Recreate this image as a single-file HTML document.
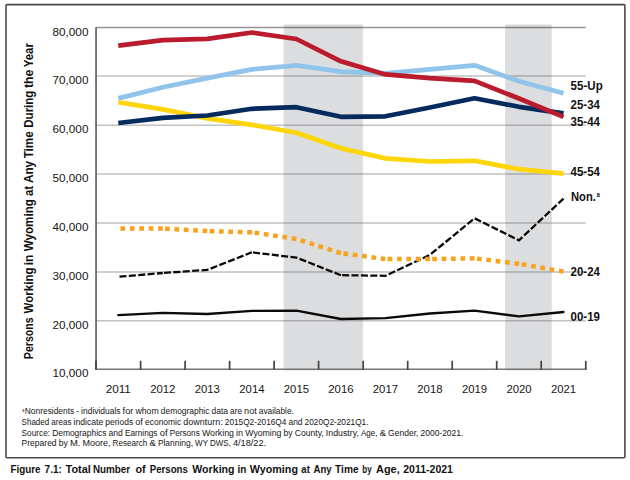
<!DOCTYPE html>
<html><head><meta charset="utf-8"><title>Figure 7.1</title>
<style>
html,body{margin:0;padding:0;background:#fff;}
body{width:630px;height:480px;overflow:hidden;font-family:"Liberation Sans",sans-serif;}
svg{display:block;}
svg text{font-family:"Liberation Sans",sans-serif;}
</style></head><body>
<svg width="630" height="480" viewBox="0 0 630 480">
<rect x="0" y="0" width="630" height="480" fill="#fff"/>
<line x1="96.05" y1="27.50" x2="585.75" y2="27.50" stroke="#959595" stroke-width="1.4"/>
<line x1="96.05" y1="76.10" x2="585.75" y2="76.10" stroke="#c2c2c2" stroke-width="1.5"/>
<line x1="96.05" y1="125.20" x2="585.75" y2="125.20" stroke="#c2c2c2" stroke-width="1.5"/>
<line x1="96.05" y1="174.00" x2="585.75" y2="174.00" stroke="#c2c2c2" stroke-width="1.5"/>
<line x1="96.05" y1="223.00" x2="585.75" y2="223.00" stroke="#c2c2c2" stroke-width="1.5"/>
<line x1="96.05" y1="271.90" x2="585.75" y2="271.90" stroke="#c2c2c2" stroke-width="1.5"/>
<line x1="96.05" y1="320.80" x2="585.75" y2="320.80" stroke="#c2c2c2" stroke-width="1.5"/>
<rect x="283.6" y="24.4" width="79.3" height="346.1" fill="#dcddde"/>
<rect x="505.2" y="24.4" width="46.6" height="346.1" fill="#dcddde"/>
<line x1="283.6" y1="27.50" x2="362.9" y2="27.50" stroke="#828384" stroke-width="1.4"/>
<line x1="505.2" y1="27.50" x2="551.8" y2="27.50" stroke="#828384" stroke-width="1.4"/>
<line x1="283.6" y1="76.10" x2="362.9" y2="76.10" stroke="#a9aaab" stroke-width="1.5"/>
<line x1="505.2" y1="76.10" x2="551.8" y2="76.10" stroke="#a9aaab" stroke-width="1.5"/>
<line x1="283.6" y1="125.20" x2="362.9" y2="125.20" stroke="#a9aaab" stroke-width="1.5"/>
<line x1="505.2" y1="125.20" x2="551.8" y2="125.20" stroke="#a9aaab" stroke-width="1.5"/>
<line x1="283.6" y1="174.00" x2="362.9" y2="174.00" stroke="#a9aaab" stroke-width="1.5"/>
<line x1="505.2" y1="174.00" x2="551.8" y2="174.00" stroke="#a9aaab" stroke-width="1.5"/>
<line x1="283.6" y1="223.00" x2="362.9" y2="223.00" stroke="#a9aaab" stroke-width="1.5"/>
<line x1="505.2" y1="223.00" x2="551.8" y2="223.00" stroke="#a9aaab" stroke-width="1.5"/>
<line x1="283.6" y1="271.90" x2="362.9" y2="271.90" stroke="#a9aaab" stroke-width="1.5"/>
<line x1="505.2" y1="271.90" x2="551.8" y2="271.90" stroke="#a9aaab" stroke-width="1.5"/>
<line x1="283.6" y1="320.80" x2="362.9" y2="320.80" stroke="#a9aaab" stroke-width="1.5"/>
<line x1="505.2" y1="320.80" x2="551.8" y2="320.80" stroke="#a9aaab" stroke-width="1.5"/>
<line x1="96.05" y1="27.2" x2="96.05" y2="369.2" stroke="#636363" stroke-width="1.7"/>
<line x1="95.25" y1="369.2" x2="586.35" y2="369.2" stroke="#757575" stroke-width="1.6"/>
<line x1="96.0" y1="360.8" x2="96.0" y2="369.8" stroke="#444" stroke-width="1.7"/>
<line x1="140.6" y1="360.8" x2="140.6" y2="369.8" stroke="#444" stroke-width="1.7"/>
<line x1="185.1" y1="360.8" x2="185.1" y2="369.8" stroke="#444" stroke-width="1.7"/>
<line x1="229.6" y1="360.8" x2="229.6" y2="369.8" stroke="#444" stroke-width="1.7"/>
<line x1="274.1" y1="360.8" x2="274.1" y2="369.8" stroke="#444" stroke-width="1.7"/>
<line x1="318.6" y1="360.8" x2="318.6" y2="369.8" stroke="#444" stroke-width="1.7"/>
<line x1="363.2" y1="360.8" x2="363.2" y2="369.8" stroke="#444" stroke-width="1.7"/>
<line x1="407.7" y1="360.8" x2="407.7" y2="369.8" stroke="#444" stroke-width="1.7"/>
<line x1="452.2" y1="360.8" x2="452.2" y2="369.8" stroke="#444" stroke-width="1.7"/>
<line x1="496.7" y1="360.8" x2="496.7" y2="369.8" stroke="#444" stroke-width="1.7"/>
<line x1="541.2" y1="360.8" x2="541.2" y2="369.8" stroke="#444" stroke-width="1.7"/>
<line x1="585.8" y1="360.8" x2="585.8" y2="369.8" stroke="#444" stroke-width="1.7"/>
<polyline points="118.3,276.8 162.8,273.0" fill="none" stroke="#0a0a0a" stroke-width="2.3" stroke-linejoin="miter" stroke-dasharray="7.05 2.35" stroke-dashoffset="-1.2"/>
<polyline points="162.8,273.0 207.3,269.9 251.9,252.3" fill="none" stroke="#0a0a0a" stroke-width="2.3" stroke-linejoin="miter" stroke-dasharray="7.05 2.35" stroke-dashoffset="-1.2"/>
<polyline points="251.9,252.3 296.4,257.6 340.9,275.2" fill="none" stroke="#0a0a0a" stroke-width="2.3" stroke-linejoin="miter" stroke-dasharray="7.05 2.35" stroke-dashoffset="-1.2"/>
<polyline points="340.9,275.2 385.4,275.8 429.9,254.9 474.5,218.3 519.0,240.3 563.5,198.6" fill="none" stroke="#0a0a0a" stroke-width="2.3" stroke-linejoin="miter" stroke-dasharray="7.05 2.35" stroke-dashoffset="-1.2"/>
<polyline points="118.3,98.4 162.8,87.3 207.3,78.1 251.9,69.4 296.4,65.4 340.9,71.6 385.4,73.3 429.9,69.3 474.5,65.3 519.0,81.3 563.5,93.3" fill="none" stroke="#90c4ea" stroke-width="4.7" stroke-linejoin="round"/>
<polyline points="118.3,102.2 162.8,109.4 207.3,118.4 251.9,124.8 296.4,132.7 340.9,148.3 385.4,158.4 429.9,161.5 474.5,160.8 519.0,169.2 563.5,173.6" fill="none" stroke="#fed505" stroke-width="4.7" stroke-linejoin="round"/>
<polyline points="118.3,123.0 162.8,117.8 207.3,115.5 251.9,108.8 296.4,107.2 340.9,116.8 385.4,116.3 429.9,107.5 474.5,98.3 519.0,106.8 563.5,113.3" fill="none" stroke="#042a5e" stroke-width="4.7" stroke-linejoin="round"/>
<polyline points="118.3,45.7 162.8,40.2 207.3,38.8 251.9,32.5 296.4,39.0 340.9,61.3 385.4,74.4 429.9,78.2 474.5,80.9 519.0,98.5 563.5,116.9" fill="none" stroke="#ba1c2e" stroke-width="4.7" stroke-linejoin="round"/>
<line x1="162.8" y1="228.6" x2="118.3" y2="228.6" stroke="#f9a21c" stroke-width="4.5" stroke-dasharray="4.7 4.7"/>
<line x1="207.3" y1="231.1" x2="162.8" y2="228.6" stroke="#f9a21c" stroke-width="4.5" stroke-dasharray="4.7 4.7"/>
<line x1="251.9" y1="232.3" x2="207.3" y2="231.1" stroke="#f9a21c" stroke-width="4.5" stroke-dasharray="4.7 4.7"/>
<line x1="296.4" y1="238.9" x2="251.9" y2="232.3" stroke="#f9a21c" stroke-width="4.5" stroke-dasharray="4.7 4.7"/>
<line x1="340.9" y1="253.2" x2="296.4" y2="238.9" stroke="#f9a21c" stroke-width="4.5" stroke-dasharray="4.7 4.7"/>
<line x1="385.4" y1="259.1" x2="340.9" y2="253.2" stroke="#f9a21c" stroke-width="4.5" stroke-dasharray="4.7 4.7"/>
<line x1="429.9" y1="259.1" x2="385.4" y2="259.1" stroke="#f9a21c" stroke-width="4.5" stroke-dasharray="4.7 4.7"/>
<line x1="474.5" y1="258.3" x2="429.9" y2="259.1" stroke="#f9a21c" stroke-width="4.5" stroke-dasharray="4.7 4.7"/>
<line x1="519.0" y1="263.8" x2="474.5" y2="258.3" stroke="#f9a21c" stroke-width="4.5" stroke-dasharray="4.7 4.7"/>
<line x1="563.5" y1="271.5" x2="519.0" y2="263.8" stroke="#f9a21c" stroke-width="4.5" stroke-dasharray="4.7 4.7"/>
<polyline points="118.3,315.2 162.8,312.8 207.3,314.0 251.9,310.9 296.4,310.7 340.9,319.0 385.4,318.2 429.9,313.5 474.5,310.7 519.0,316.4 563.5,312.0" fill="none" stroke="#0a0a0a" stroke-width="2.3" stroke-linejoin="round" stroke-linecap="round"/>
<text x="88.4" y="35.6" text-anchor="end" font-size="11.7" textLength="35.8" lengthAdjust="spacingAndGlyphs" fill="#151515">80,000</text>
<text x="88.4" y="84.2" text-anchor="end" font-size="11.7" textLength="35.8" lengthAdjust="spacingAndGlyphs" fill="#151515">70,000</text>
<text x="88.4" y="133.3" text-anchor="end" font-size="11.7" textLength="35.8" lengthAdjust="spacingAndGlyphs" fill="#151515">60,000</text>
<text x="88.4" y="182.1" text-anchor="end" font-size="11.7" textLength="35.8" lengthAdjust="spacingAndGlyphs" fill="#151515">50,000</text>
<text x="88.4" y="231.1" text-anchor="end" font-size="11.7" textLength="35.8" lengthAdjust="spacingAndGlyphs" fill="#151515">40,000</text>
<text x="88.4" y="280.0" text-anchor="end" font-size="11.7" textLength="35.8" lengthAdjust="spacingAndGlyphs" fill="#151515">30,000</text>
<text x="88.4" y="328.9" text-anchor="end" font-size="11.7" textLength="35.8" lengthAdjust="spacingAndGlyphs" fill="#151515">20,000</text>
<text x="88.4" y="377.3" text-anchor="end" font-size="11.7" textLength="35.8" lengthAdjust="spacingAndGlyphs" fill="#151515">10,000</text>
<text x="118.3" y="392.7" text-anchor="middle" font-size="11.7" textLength="25.2" lengthAdjust="spacingAndGlyphs" fill="#151515">2011</text>
<text x="162.8" y="392.7" text-anchor="middle" font-size="11.7" textLength="25.2" lengthAdjust="spacingAndGlyphs" fill="#151515">2012</text>
<text x="207.3" y="392.7" text-anchor="middle" font-size="11.7" textLength="25.2" lengthAdjust="spacingAndGlyphs" fill="#151515">2013</text>
<text x="251.9" y="392.7" text-anchor="middle" font-size="11.7" textLength="25.2" lengthAdjust="spacingAndGlyphs" fill="#151515">2014</text>
<text x="296.4" y="392.7" text-anchor="middle" font-size="11.7" textLength="25.2" lengthAdjust="spacingAndGlyphs" fill="#151515">2015</text>
<text x="340.9" y="392.7" text-anchor="middle" font-size="11.7" textLength="25.2" lengthAdjust="spacingAndGlyphs" fill="#151515">2016</text>
<text x="385.4" y="392.7" text-anchor="middle" font-size="11.7" textLength="25.2" lengthAdjust="spacingAndGlyphs" fill="#151515">2017</text>
<text x="429.9" y="392.7" text-anchor="middle" font-size="11.7" textLength="25.2" lengthAdjust="spacingAndGlyphs" fill="#151515">2018</text>
<text x="474.5" y="392.7" text-anchor="middle" font-size="11.7" textLength="25.2" lengthAdjust="spacingAndGlyphs" fill="#151515">2019</text>
<text x="519.0" y="392.7" text-anchor="middle" font-size="11.7" textLength="25.2" lengthAdjust="spacingAndGlyphs" fill="#151515">2020</text>
<text x="563.5" y="392.7" text-anchor="middle" font-size="11.7" textLength="25.2" lengthAdjust="spacingAndGlyphs" fill="#151515">2021</text>
<text x="570.6" y="89.9" font-size="12.2" font-weight="bold" textLength="32.1" lengthAdjust="spacingAndGlyphs" fill="#111">55-Up</text>
<text x="570.6" y="108.8" font-size="12.2" font-weight="bold" textLength="29.3" lengthAdjust="spacingAndGlyphs" fill="#111">25-34</text>
<text x="570.6" y="125.9" font-size="12.2" font-weight="bold" textLength="29.3" lengthAdjust="spacingAndGlyphs" fill="#111">35-44</text>
<text x="570.6" y="176" font-size="12.2" font-weight="bold" textLength="29.3" lengthAdjust="spacingAndGlyphs" fill="#111">45-54</text>
<text x="571.0" y="201" font-size="12.2" font-weight="bold" textLength="24.8" lengthAdjust="spacingAndGlyphs" fill="#111">Non.</text>
<text x="596.7" y="196.9" font-size="6.8" font-weight="bold" textLength="3.1" lengthAdjust="spacingAndGlyphs" fill="#111">a</text>
<text x="570.6" y="275.9" font-size="12.2" font-weight="bold" textLength="29.3" lengthAdjust="spacingAndGlyphs" fill="#111">20-24</text>
<text x="570.6" y="320.9" font-size="12.2" font-weight="bold" textLength="29.3" lengthAdjust="spacingAndGlyphs" fill="#111">00-19</text>
<g transform="translate(32.7,358.5) rotate(-90)" font-size="12.0" font-weight="bold" fill="#111">
<text x="-0.63" y="0" textLength="41.72" lengthAdjust="spacingAndGlyphs">Persons</text>
<text x="45.10" y="0" textLength="45.90" lengthAdjust="spacingAndGlyphs">Working</text>
<text x="93.28" y="0" textLength="10.65" lengthAdjust="spacingAndGlyphs">in</text>
<text x="107.30" y="0" textLength="52.01" lengthAdjust="spacingAndGlyphs">Wyoming</text>
<text x="162.52" y="0" textLength="10.11" lengthAdjust="spacingAndGlyphs">at</text>
<text x="175.47" y="0" textLength="22.09" lengthAdjust="spacingAndGlyphs">Any</text>
<text x="200.18" y="0" textLength="27.12" lengthAdjust="spacingAndGlyphs">Time</text>
<text x="230.81" y="0" textLength="37.09" lengthAdjust="spacingAndGlyphs">During</text>
<text x="270.48" y="0" textLength="18.44" lengthAdjust="spacingAndGlyphs">the</text>
<text x="291.18" y="0" textLength="24.32" lengthAdjust="spacingAndGlyphs">Year</text>
</g>
<g font-size="8.5" fill="#151515">
<text x="22.2" y="412.1" font-size="4.6" textLength="2.0" lengthAdjust="spacingAndGlyphs">a</text>
<text x="24.80" y="414.4" textLength="49.40" lengthAdjust="spacingAndGlyphs">Nonresidents</text>
<text x="76.30" y="414.4" textLength="2.80" lengthAdjust="spacingAndGlyphs">-</text>
<text x="81.10" y="414.4" textLength="39.50" lengthAdjust="spacingAndGlyphs">individuals</text>
<text x="122.60" y="414.4" textLength="10.80" lengthAdjust="spacingAndGlyphs">for</text>
<text x="135.40" y="414.4" textLength="23.30" lengthAdjust="spacingAndGlyphs">whom</text>
<text x="160.80" y="414.4" textLength="48.60" lengthAdjust="spacingAndGlyphs">demographic</text>
<text x="211.50" y="414.4" textLength="16.50" lengthAdjust="spacingAndGlyphs">data</text>
<text x="230.00" y="414.4" textLength="12.10" lengthAdjust="spacingAndGlyphs">are</text>
<text x="244.10" y="414.4" textLength="12.60" lengthAdjust="spacingAndGlyphs">not</text>
<text x="258.80" y="414.4" textLength="35.00" lengthAdjust="spacingAndGlyphs">available.</text>
<text x="21.60" y="425.0" textLength="27.60" lengthAdjust="spacingAndGlyphs">Shaded</text>
<text x="51.30" y="425.0" textLength="20.10" lengthAdjust="spacingAndGlyphs">areas</text>
<text x="73.50" y="425.0" textLength="29.70" lengthAdjust="spacingAndGlyphs">indicate</text>
<text x="105.30" y="425.0" textLength="27.90" lengthAdjust="spacingAndGlyphs">periods</text>
<text x="135.30" y="425.0" textLength="7.60" lengthAdjust="spacingAndGlyphs">of</text>
<text x="145.00" y="425.0" textLength="36.20" lengthAdjust="spacingAndGlyphs">economic</text>
<text x="183.30" y="425.0" textLength="39.40" lengthAdjust="spacingAndGlyphs">downturn:</text>
<text x="224.80" y="425.0" textLength="61.60" lengthAdjust="spacingAndGlyphs">2015Q2-2016Q4</text>
<text x="288.50" y="425.0" textLength="14.00" lengthAdjust="spacingAndGlyphs">and</text>
<text x="304.60" y="425.0" textLength="63.90" lengthAdjust="spacingAndGlyphs">2020Q2-2021Q1.</text>
<text x="21.60" y="435.5" textLength="28.45" lengthAdjust="spacingAndGlyphs">Source:</text>
<text x="52.16" y="435.5" textLength="54.30" lengthAdjust="spacingAndGlyphs">Demographics</text>
<text x="108.57" y="435.5" textLength="14.23" lengthAdjust="spacingAndGlyphs">and</text>
<text x="124.90" y="435.5" textLength="32.63" lengthAdjust="spacingAndGlyphs">Earnings</text>
<text x="159.65" y="435.5" textLength="7.90" lengthAdjust="spacingAndGlyphs">of</text>
<text x="169.69" y="435.5" textLength="30.10" lengthAdjust="spacingAndGlyphs">Persons</text>
<text x="201.90" y="435.5" textLength="32.13" lengthAdjust="spacingAndGlyphs">Working</text>
<text x="236.13" y="435.5" textLength="7.01" lengthAdjust="spacingAndGlyphs">in</text>
<text x="245.24" y="435.5" textLength="36.24" lengthAdjust="spacingAndGlyphs">Wyoming</text>
<text x="283.58" y="435.5" textLength="9.11" lengthAdjust="spacingAndGlyphs">by</text>
<text x="294.79" y="435.5" textLength="28.96" lengthAdjust="spacingAndGlyphs">County,</text>
<text x="325.82" y="435.5" textLength="33.08" lengthAdjust="spacingAndGlyphs">Industry,</text>
<text x="360.97" y="435.5" textLength="16.60" lengthAdjust="spacingAndGlyphs">Age,</text>
<text x="379.66" y="435.5" textLength="6.28" lengthAdjust="spacingAndGlyphs">&amp;</text>
<text x="388.03" y="435.5" textLength="30.41" lengthAdjust="spacingAndGlyphs">Gender,</text>
<text x="420.54" y="435.5" textLength="42.78" lengthAdjust="spacingAndGlyphs">2000-2021.</text>
<text x="21.60" y="445.6" textLength="35.00" lengthAdjust="spacingAndGlyphs">Prepared</text>
<text x="58.70" y="445.6" textLength="9.10" lengthAdjust="spacingAndGlyphs">by</text>
<text x="69.90" y="445.6" textLength="10.40" lengthAdjust="spacingAndGlyphs">M.</text>
<text x="82.40" y="445.6" textLength="28.10" lengthAdjust="spacingAndGlyphs">Moore,</text>
<text x="112.60" y="445.6" textLength="34.70" lengthAdjust="spacingAndGlyphs">Research</text>
<text x="149.40" y="445.6" textLength="6.40" lengthAdjust="spacingAndGlyphs">&amp;</text>
<text x="157.90" y="445.6" textLength="35.10" lengthAdjust="spacingAndGlyphs">Planning,</text>
<text x="195.10" y="445.6" textLength="12.90" lengthAdjust="spacingAndGlyphs">WY</text>
<text x="210.10" y="445.6" textLength="20.70" lengthAdjust="spacingAndGlyphs">DWS,</text>
<text x="232.90" y="445.6" textLength="33.30" lengthAdjust="spacingAndGlyphs">4/18/22.</text>
</g>
<rect x="6.0" y="4.6" width="618.9" height="453.1" fill="none" stroke="#4a4a4a" stroke-width="1.6" rx="1"/>
<g font-size="10.9" font-weight="bold" fill="#111">
<text x="10.51" y="473.0" textLength="30.05" lengthAdjust="spacingAndGlyphs">Figure</text>
<text x="44.60" y="473.0" textLength="17.23" lengthAdjust="spacingAndGlyphs">7.1:</text>
<text x="65.59" y="473.0" textLength="25.25" lengthAdjust="spacingAndGlyphs">Total</text>
<text x="93.01" y="473.0" textLength="37.18" lengthAdjust="spacingAndGlyphs">Number</text>
<text x="135.47" y="473.0" textLength="10.25" lengthAdjust="spacingAndGlyphs">of</text>
<text x="149.72" y="473.0" textLength="38.13" lengthAdjust="spacingAndGlyphs">Persons</text>
<text x="192.30" y="473.0" textLength="42.25" lengthAdjust="spacingAndGlyphs">Working</text>
<text x="237.50" y="473.0" textLength="8.91" lengthAdjust="spacingAndGlyphs">in</text>
<text x="249.80" y="473.0" textLength="48.15" lengthAdjust="spacingAndGlyphs">Wyoming</text>
<text x="301.31" y="473.0" textLength="8.52" lengthAdjust="spacingAndGlyphs">at</text>
<text x="313.41" y="473.0" textLength="18.26" lengthAdjust="spacingAndGlyphs">Any</text>
<text x="335.10" y="473.0" textLength="23.47" lengthAdjust="spacingAndGlyphs">Time</text>
<text x="362.32" y="473.0" textLength="9.35" lengthAdjust="spacingAndGlyphs">by</text>
<text x="376.08" y="473.0" textLength="23.65" lengthAdjust="spacingAndGlyphs">Age,</text>
<text x="403.28" y="473.0" textLength="49.69" lengthAdjust="spacingAndGlyphs">2011-2021</text>
</g>
</svg>
</body></html>
